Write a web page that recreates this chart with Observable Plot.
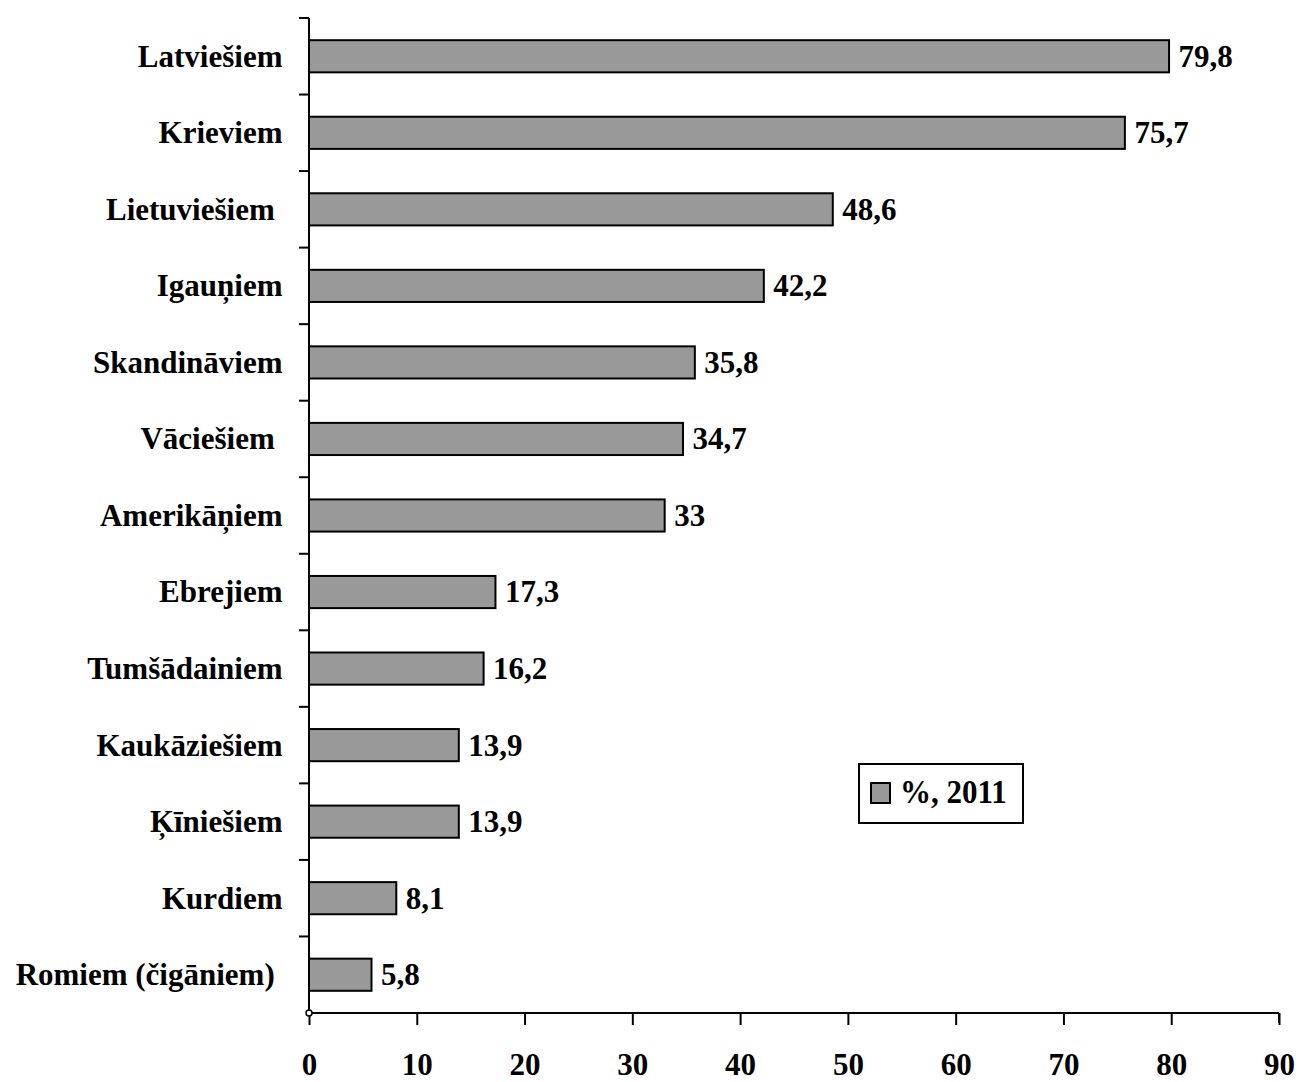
<!DOCTYPE html>
<html>
<head>
<meta charset="utf-8">
<script src="https://cdn.jsdelivr.net/npm/d3@7"></script>
<script src="https://cdn.jsdelivr.net/npm/@observablehq/plot@0.6"></script>
<style>
  body { margin: 0; background: #fff; }
  #wrap { position: relative; width: 1302px; height: 1082px; }
  #wrap svg text { font-family: "Liberation Serif", "Times New Roman", serif; font-weight: bold; white-space: pre; }
  .legend { position: absolute; left: 858px; top: 763px; width: 162px; height: 57px; border: 2px solid #000; background: #fff; box-sizing: content-box; }
  .legend .sw { position: absolute; left: 10px; top: 17px; width: 17px; height: 18px; background: #999999; border: 2px solid #000; }
  .legend .lb { position: absolute; left: 40px; top: 8px; font-family: "Liberation Serif", "Times New Roman", serif; font-weight: bold; font-size: 31px; line-height: 38px; transform: scaleY(1.12); transform-origin: 0 50%; white-space: pre; }
</style>
</head>
<body>
<div id="wrap"></div>
<script>
const categories = ["Latviešiem", "Krieviem", "Lietuviešiem ", "Igauņiem", "Skandināviem", "Vāciešiem ", "Amerikāņiem", "Ebrejiem", "Tumšādainiem", "Kaukāziešiem", "Ķīniešiem", "Kurdiem", "Romiem (čigāniem) "];
const values = [79.8, 75.7, 48.6, 42.2, 35.8, 34.7, 33, 17.3, 16.2, 13.9, 13.9, 8.1, 5.8];
const xTicks = [0, 10, 20, 30, 40, 50, 60, 70, 80, 90];
const legendLabel = "%, 2011";

const data = categories.map((c, i) => ({cat: c, value: values[i]}));
const fmt = v => String(v).replace(".", ",");
const PAD_IN = 0.58;

function axisLines(index, scales, vals, dims) {
  const x = scales.x, y = scales.y;
  const g = d3.create("svg:g").attr("stroke", "#000").attr("stroke-width", 2).attr("fill", "none");
  const x0 = x(xTicks[0]), x1 = x(xTicks[xTicks.length - 1]);
  const top = dims.marginTop, bottom = dims.height - dims.marginBottom;
  g.append("line").attr("x1", x0).attr("x2", x0).attr("y1", top).attr("y2", bottom);
  g.append("line").attr("x1", x0).attr("x2", x1).attr("y1", bottom).attr("y2", bottom);
  const step = y(categories[1]) - y(categories[0]);
  const gap = step * PAD_IN / 2;
  categories.forEach(c => {
    const yy = y(c) - gap;
    g.append("line").attr("x1", x0 - 10).attr("x2", x0).attr("y1", yy).attr("y2", yy);
  });
  // small end markers at the axis ends
  g.append("circle").attr("cx", x0).attr("cy", bottom).attr("r", 3).attr("fill", "#fff").attr("stroke-width", 1.5);
  g.append("line").attr("x1", x1).attr("x2", x1).attr("y1", bottom).attr("y2", bottom + 10);
  return g.node();
}

const chart = Plot.plot({
  width: 1302,
  height: 1082,
  marginLeft: 309,
  marginRight: 23,
  marginTop: 18,
  marginBottom: 69,
  style: {background: "#fff", color: "#000", overflow: "visible"},
  x: {domain: [0, 90], round: false},
  y: {domain: categories, paddingInner: PAD_IN, paddingOuter: PAD_IN / 2, round: false},
  marks: [
    Plot.barX(data, {x: "value", y: "cat", fill: "#999999", stroke: "#000", strokeWidth: 2}),
    Plot.text(data, {x: "value", y: "cat", text: d => fmt(d.value), textAnchor: "start", dx: 9, fontSize: 31, fill: "#000"}),
    Plot.axisY({tickSize: 0, tickPadding: 27, fontSize: 31, label: null}),
    Plot.axisX({ticks: xTicks, tickSize: 12, tickPadding: 27, fontSize: 31, strokeWidth: 2, label: null, tickFormat: d => String(d)}),
    axisLines
  ]
});

document.getElementById("wrap").appendChild(chart);

// slightly tall glyphs as in the reference
chart.querySelectorAll("text").forEach(t => {
  const tr = t.getAttribute("transform");
  if (tr && !t.hasAttribute("y")) t.setAttribute("transform", tr + " scale(1,1.12)");
});

const lg = document.createElement("div");
lg.className = "legend";
lg.innerHTML = '<div class="sw"></div><div class="lb"></div>';
lg.querySelector(".lb").textContent = legendLabel;
document.getElementById("wrap").appendChild(lg);
</script>
</body>
</html>
